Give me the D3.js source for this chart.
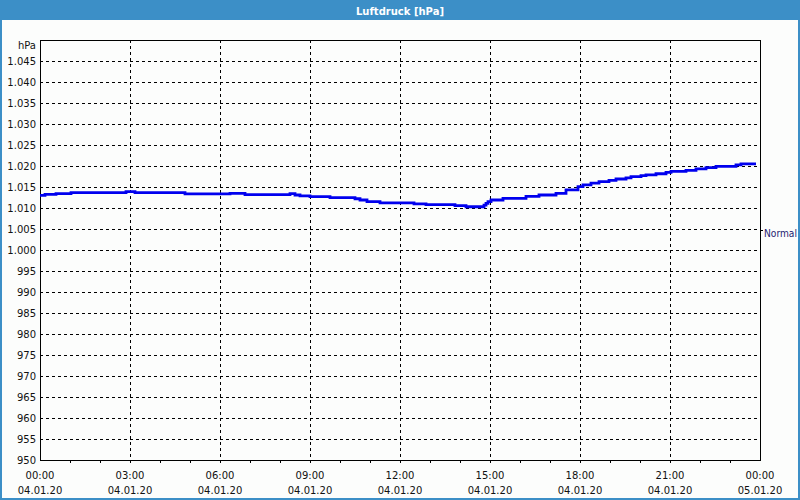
<!DOCTYPE html>
<html><head><meta charset="utf-8">
<script src="https://cdn.jsdelivr.net/npm/d3@7"></script>
<style>
html,body{margin:0;padding:0;background:#fcfdfc;}
svg{display:block;}
text{font-family:"DejaVu Sans",Verdana,sans-serif;}
</style></head>
<body>
<svg id="c" width="800" height="500"></svg>
<script>
const title = "Luftdruck [hPa]";
const unitLabel = "hPa";
const normalLabel = "Normal";
const normalValue = 1004.7;
// minutes after 04.01.20 00:00
const minutes = [0,10,32,62,172,190,290,380,410,500,510,520,540,580,630,640,654,680,748,772,830,852,888,892,896,902,926,972,998,1032,1052,1076,1086,1102,1118,1138,1152,1172,1182,1202,1212,1232,1252,1262,1292,1312,1332,1352,1392,1402,1432];
const pressure = [1013.0,1013.25,1013.4,1013.65,1013.9,1013.65,1013.35,1013.5,1013.2,1013.4,1013.1,1012.9,1012.7,1012.45,1012.2,1011.9,1011.5,1011.2,1011.0,1010.8,1010.55,1010.3,1010.7,1011.1,1011.5,1011.9,1012.3,1012.75,1013.1,1013.5,1014.3,1015.1,1015.5,1015.9,1016.3,1016.6,1016.9,1017.15,1017.45,1017.7,1017.9,1018.15,1018.5,1018.7,1018.95,1019.3,1019.6,1019.9,1020.25,1020.5,1020.5];
const yTicks = [950,955,960,965,970,975,980,985,990,995,1000,1005,1010,1015,1020,1025,1030,1035,1040,1045];
const xTickHours = [0,3,6,9,12,15,18,21,24];
const xTimeLabels = ["00:00","03:00","06:00","09:00","12:00","15:00","18:00","21:00","00:00"];
const xDateLabels = ["04.01.20","04.01.20","04.01.20","04.01.20","04.01.20","04.01.20","04.01.20","04.01.20","05.01.20"];

const svg = d3.select("#c");
const L=40,R=760,T=40,B=460;
const x = d3.scaleLinear().domain([0,24*60]).range([L,R]);
const y = d3.scaleLinear().domain([950,1050]).range([B,T]);

svg.append("rect").attr("width",800).attr("height",500).attr("fill","#fcfdfc");
// title bar
svg.append("rect").attr("x",0).attr("y",0).attr("width",800).attr("height",20).attr("fill","#3c8fc7");
svg.append("text").attr("x",400).attr("y",14.5).attr("text-anchor","middle").attr("fill","#fff")
  .attr("font-weight","bold").attr("font-size",11).attr("textLength",88).attr("lengthAdjust","spacingAndGlyphs").text(title);
// side borders
svg.append("rect").attr("x",0).attr("y",0).attr("width",2).attr("height",500).attr("fill","#3c8fc7");
svg.append("rect").attr("x",798).attr("y",0).attr("width",2).attr("height",500).attr("fill","#3c8fc7");
svg.append("rect").attr("x",0).attr("y",498).attr("width",800).attr("height",2).attr("fill","#3c8fc7");

// grid
const g = svg.append("g").attr("shape-rendering","crispEdges");
g.selectAll("line.h").data(yTicks.filter(d=>d>950)).enter().append("line")
  .attr("x1",L).attr("x2",R).attr("y1",d=>Math.round(y(d))+0.5).attr("y2",d=>Math.round(y(d))+0.5)
  .attr("stroke","#000").attr("stroke-dasharray","3,3");
g.selectAll("line.v").data(xTickHours.filter(h=>h>0&&h<24)).enter().append("line")
  .attr("y1",T).attr("y2",B).attr("x1",h=>Math.round(x(h*60))+0.5).attr("x2",h=>Math.round(x(h*60))+0.5)
  .attr("stroke","#000").attr("stroke-dasharray","3,3");

// hourly minor ticks on bottom axis
g.selectAll("line.mt").data(d3.range(1,24)).enter().append("line")
  .attr("x1",h=>Math.round(x(h*60))+0.5).attr("x2",h=>Math.round(x(h*60))+0.5)
  .attr("y1",B).attr("y2",B+3).attr("stroke","#000");

// data line
const line = d3.line().x((d,i)=>x(minutes[i])).y((d,i)=>y(pressure[i])).curve(d3.curveStepAfter);
svg.append("path").datum(pressure).attr("d",line).attr("fill","none")
  .attr("stroke","#0000ee").attr("stroke-width",2.8);

// frame
g.append("rect").attr("x",L+0.5).attr("y",T+0.5).attr("width",R-L).attr("height",B-T)
  .attr("fill","none").attr("stroke","#000");

// y labels
svg.selectAll("text.yl").data(yTicks).enter().append("text")
  .attr("x",36).attr("y",d=>y(d)+4).attr("text-anchor","end").attr("font-size",10).attr("fill","#111")
  .text(d=>d3.format(",")(d).replace(",","."));
svg.append("text").attr("x",36).attr("y",49).attr("text-anchor","end").attr("font-size",10).attr("fill","#111").text(unitLabel);

// x labels
svg.selectAll("text.xt").data(xTickHours).enter().append("text")
  .attr("x",h=>x(h*60)).attr("y",479).attr("text-anchor","middle").attr("font-size",10).attr("fill","#111")
  .text((h,i)=>xTimeLabels[i]);
svg.selectAll("text.xd").data(xTickHours).enter().append("text")
  .attr("x",h=>x(h*60)).attr("y",494).attr("text-anchor","middle").attr("font-size",10).attr("fill","#111")
  .text((h,i)=>xDateLabels[i]);

// Normal marker
const ny = Math.round(y(normalValue))+0.5;
g.append("line").attr("x1",R).attr("x2",R+3).attr("y1",ny).attr("y2",ny).attr("stroke","#000");
svg.append("text").attr("x",764).attr("y",ny+6).attr("font-size",10).attr("fill","#1c1c70")
  .attr("textLength",33).attr("lengthAdjust","spacingAndGlyphs").text(normalLabel);
</script>
</body></html>
